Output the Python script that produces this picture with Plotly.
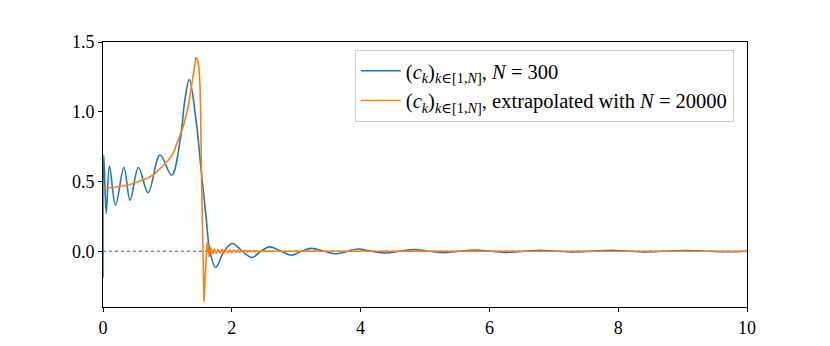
import plotly.graph_objects as go

# Blue series: (c_k), N = 300  (extrema and zero crossings)
blue_x = [0.0, 0.012, 0.05, 0.10, 0.195, 0.325, 0.42, 0.55, 0.70, 0.885, 1.066, 1.20, 1.27, 1.34,
          1.45, 1.52, 1.60, 1.66, 1.75, 1.88, 2.01, 2.16, 2.31, 2.45, 2.59, 2.76, 2.93, 3.08,
          3.24, 3.43, 3.63, 3.80, 3.96, 4.17, 4.38, 4.61, 4.84, 5.07, 5.31, 5.54, 5.78, 6.02,
          6.27, 6.53, 6.79, 7.06, 7.33, 7.61, 7.90, 8.17, 8.44, 8.75, 9.06, 9.38, 9.70, 10.0]
blue_y = [-0.19, 0.69, 0.27, 0.61, 0.33, 0.60, 0.365, 0.60, 0.42, 0.69, 0.545, 0.80, 1.08, 1.23,
          0.92, 0.60, 0.25, 0.0, -0.117, 0.0, 0.055, 0.0, -0.045, 0.0, 0.031, 0.0, -0.029, 0.0,
          0.020, 0.0, -0.018, 0.0, 0.016, 0.0, -0.013, 0.0, 0.012, 0.0, -0.010, 0.0, 0.009, 0.0,
          -0.008, 0.0, 0.007, 0.0, -0.006, 0.0, 0.006, 0.0, -0.005, 0.0, 0.004, 0.0, -0.004, 0.0]

# Orange series: extrapolated with N = 20000
orange_x = [0.0, 0.1, 0.2, 0.3, 0.4, 0.5, 0.6, 0.7, 0.8, 0.885, 0.95, 1.02, 1.09, 1.17, 1.25,
            1.32, 1.38, 1.42, 1.445, 1.47, 1.49, 1.505, 1.515, 1.53, 1.55, 1.568, 1.59, 1.62,
            1.65, 1.67, 1.70, 1.73, 1.76, 1.79, 1.82, 1.85, 1.88, 1.91, 1.94, 1.97, 2.00, 2.03,
            2.06, 2.09, 2.12, 2.15, 2.18, 2.21, 2.24, 2.27, 2.30, 2.33, 2.36, 2.39, 2.42, 2.45,
            2.48, 2.51, 2.54, 2.57, 2.60, 4.0, 6.0, 8.0, 10.0]
orange_y = [0.46, 0.455, 0.46, 0.465, 0.475, 0.49, 0.505, 0.525, 0.555, 0.59, 0.62, 0.655, 0.70,
            0.80, 0.90, 1.03, 1.20, 1.33, 1.39, 1.37, 1.31, 1.20, 1.03, 0.52, 0.0, -0.36, -0.15,
            0.067, -0.04, 0.03, -0.02, 0.018, -0.016, 0.015, -0.014, 0.013, -0.012, 0.011,
            -0.010, 0.010, -0.009, 0.009, -0.008, 0.008, -0.007, 0.007, -0.006, 0.006, -0.005,
            0.005, -0.005, 0.004, -0.004, 0.004, -0.003, 0.003, -0.003, 0.002, -0.002, 0.002,
            0.0, 0.0, 0.0, 0.0, 0.0]

x_ticks = [0, 2, 4, 6, 8, 10]
y_ticks = [0.0, 0.5, 1.0, 1.5]

blue_name = "(<i>c</i><sub><i>k</i></sub>)<sub><i>k</i>∈[1,<i>N</i>]</sub>, <i>N</i> = 300"
orange_name = ("(<i>c</i><sub><i>k</i></sub>)<sub><i>k</i>∈[1,<i>N</i>]</sub>, "
               "extrapolated with <i>N</i> = 20000")

FONT = "Liberation Serif, DejaVu Serif, serif"

fig = go.Figure()
fig.add_trace(go.Scatter(x=[0, 10], y=[0, 0], mode="lines",
                         line=dict(color="#555555", width=1, dash="dot"),
                         showlegend=False, hoverinfo="skip"))
fig.add_trace(go.Scatter(x=blue_x, y=blue_y, mode="lines", name=blue_name,
                         line=dict(color="#1f77b4", width=1.6, shape="spline", smoothing=1.0)))
fig.add_trace(go.Scatter(x=orange_x, y=orange_y, mode="lines", name=orange_name,
                         line=dict(color="#ff7f0e", width=1.6)))

fig.update_layout(
    width=822, height=338,
    margin=dict(l=95, r=83, t=34, b=39, autoexpand=False),
    paper_bgcolor="white", plot_bgcolor="white",
    font=dict(family=FONT, size=18, color="black"),
    showlegend=True,
    legend=dict(x=0.391, y=0.97, xanchor="left", yanchor="top",
                bgcolor="rgba(255,255,255,0.85)", bordercolor="#cccccc", borderwidth=1,
                font=dict(family=FONT, size=20.5), itemwidth=40,
                tracegroupgap=2),
)
fig.update_xaxes(range=[0, 10], tickvals=x_ticks, ticks="outside", ticklen=4,
                 tickcolor="black", showline=True, linecolor="black", linewidth=1,
                 mirror=True, showgrid=False, zeroline=False, automargin=False)
fig.update_yaxes(range=[-0.40, 1.5], tickvals=y_ticks, tickformat=".1f", ticks="outside",
                 ticklen=4, tickcolor="black", showline=True, linecolor="black", linewidth=1,
                 mirror=True, showgrid=False, zeroline=False, automargin=False)

fig.write_html("out.html")
